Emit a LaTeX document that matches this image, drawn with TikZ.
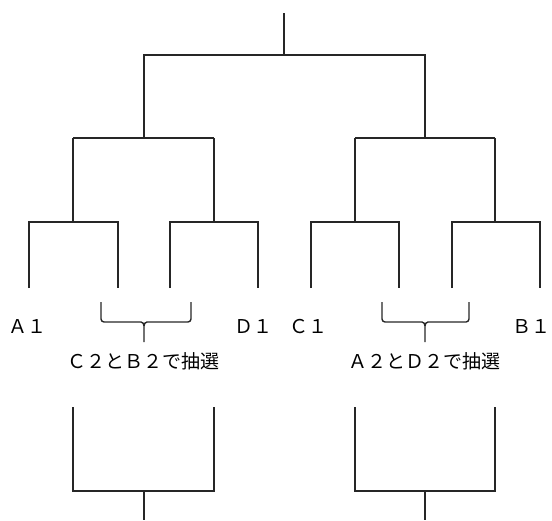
\documentclass[tikz,border=0pt]{standalone}
\usepackage{fontspec}
\usetikzlibrary{calc}
\newfontfamily\jpfont{Noto Sans CJK JP}
\begin{document}
\begin{tikzpicture}[x=1pt,y=-1pt,
  line/.style={draw=black!85,line width=1.1pt,line cap=butt,line join=miter},
  bracel/.style={line,line width=1.4pt},
  lbl/.style={font=\jpfont\fontsize{19}{22}\selectfont,inner sep=0pt,text=black}]
\useasboundingbox (0,0) rectangle (552,520);
% --- tree coordinates
\coordinate (top) at (284,13);
\coordinate (j0) at (284,55);
\coordinate (j0l) at (144,55);
\coordinate (j0r) at (425,55);
\coordinate (j1l) at (144,138);
\coordinate (j1r) at (425,138);
\coordinate (j1ll) at (73,138);
\coordinate (j1lr) at (214,138);
\coordinate (j1rl) at (355,138);
\coordinate (j1rr) at (495,138);
\coordinate (j2a) at (73,222);
\coordinate (j2b) at (214,222);
\coordinate (j2c) at (355,222);
\coordinate (j2d) at (495,222);
\coordinate (a1t) at (29,222);  \coordinate (a1) at (29,288);
\coordinate (c2t) at (118,222); \coordinate (c2) at (118,288);
\coordinate (b2t) at (170,222); \coordinate (b2) at (170,288);
\coordinate (d1t) at (258,222); \coordinate (d1) at (258,288);
\coordinate (c1t) at (311,222); \coordinate (c1) at (311,288);
\coordinate (a2t) at (399,222); \coordinate (a2) at (399,288);
\coordinate (d2t) at (452,222); \coordinate (d2) at (452,288);
\coordinate (b1t) at (540,222); \coordinate (b1) at (540,288);
% --- tree lines
\draw[line] (top) -- (j0);
\draw[line] (j1l) -- (j0l) -- (j0r) -- (j1r);
\draw[line] (j1l) -- (j1ll);
\draw[line] (j1l) -- (j1lr);
\draw[line] (j1r) -- (j1rl);
\draw[line] (j1r) -- (j1rr);
\draw[line] (j1ll) -- (j2a);
\draw[line] (j1lr) -- (j2b);
\draw[line] (j1rl) -- (j2c);
\draw[line] (j1rr) -- (j2d);
\draw[line] (a1) -- (a1t) -- (c2t) -- (c2);
\draw[line] (b2) -- (b2t) -- (d1t) -- (d1);
\draw[line] (c1) -- (c1t) -- (a2t) -- (a2);
\draw[line] (d2) -- (d2t) -- (b1t) -- (b1);
% --- labels
\node[lbl] (la1) at (28,327) {Ａ１};
\node[lbl] (ld1) at (253,327) {Ｄ１};
\node[lbl] (lc1) at (308,327) {Ｃ１};
\node[lbl] (lb1) at (531,327) {Ｂ１};
% --- braces
\coordinate (bl1) at (101,302); \coordinate (bl2) at (191,302); \coordinate (blt) at (144,342);
\coordinate (br1) at (382,302); \coordinate (br2) at (469,302); \coordinate (brt) at (425,342);
\draw[bracel] (bl1) -- ++(0,17) to[out=-90,in=180] ++(3,3) -- ($(blt)+(-3,-20)$) to[out=0,in=90] ($(blt)+(0,-16)$) -- (blt);
\draw[bracel] (bl2) -- ++(0,17) to[out=-90,in=0] ++(-3,3) -- ($(blt)+(3,-20)$) to[out=180,in=90] ($(blt)+(0,-16)$);
\draw[bracel] (br1) -- ++(0,17) to[out=-90,in=180] ++(3,3) -- ($(brt)+(-3,-20)$) to[out=0,in=90] ($(brt)+(0,-16)$) -- (brt);
\draw[bracel] (br2) -- ++(0,17) to[out=-90,in=0] ++(-3,3) -- ($(brt)+(3,-20)$) to[out=180,in=90] ($(brt)+(0,-16)$);
\node[lbl] (tl) at (143,361) {Ｃ２とＢ２で抽選};
\node[lbl] (tr) at (424,361) {Ａ２とＤ２で抽選};
% --- lower brackets
\coordinate (ll1) at (73,407); \coordinate (ll2) at (214,407);
\coordinate (llb1) at (73,491); \coordinate (llb2) at (214,491);
\coordinate (llm) at (144,491); \coordinate (llo) at (144,520);
\coordinate (rl1) at (355,407); \coordinate (rl2) at (495,407);
\coordinate (rlb1) at (355,491); \coordinate (rlb2) at (495,491);
\coordinate (rlm) at (425,491); \coordinate (rlo) at (425,520);
\draw[line] (ll1) -- (llb1) -- (llb2) -- (ll2);
\draw[line] (llm) -- (llo);
\draw[line] (rl1) -- (rlb1) -- (rlb2) -- (rl2);
\draw[line] (rlm) -- (rlo);
\end{tikzpicture}
\end{document}
